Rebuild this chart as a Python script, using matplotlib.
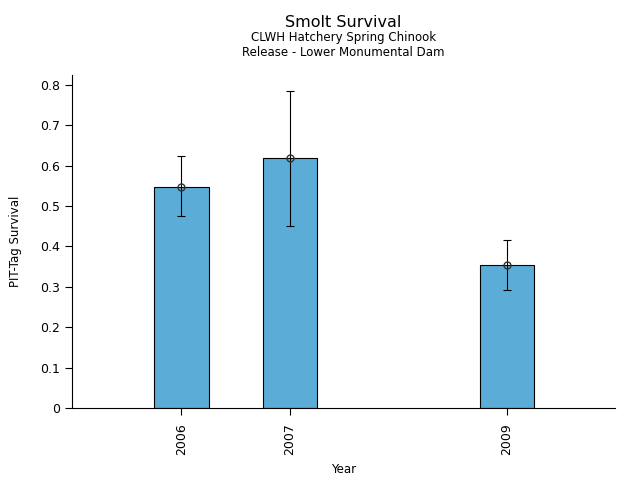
import matplotlib
matplotlib.use("Agg")
import matplotlib.pyplot as plt
from matplotlib.ticker import FuncFormatter
import numpy as np

years = [2006, 2007, 2009]
survival = [0.547, 0.619, 0.354]
upper = [0.624, 0.785, 0.416]
lower = [0.475, 0.450, 0.293]

err_low = np.array(survival) - np.array(lower)
err_high = np.array(upper) - np.array(survival)

fig = plt.figure(figsize=(6.4, 4.8), dpi=100)
ax = fig.add_axes([0.1125, 0.15, 0.8485, 0.694])

ax.bar(years, survival, width=0.5, color="#5bacd6", edgecolor="black", linewidth=0.8)
ax.errorbar(years, survival, yerr=[err_low, err_high], fmt="o", color="black",
            ecolor="black", elinewidth=0.8, capsize=3, capthick=0.8,
            markerfacecolor="none", markeredgecolor="#333333", markersize=5)

ax.set_xlim(2004.99, 2010)
ax.set_ylim(0, 0.825)
ax.set_xticks(years)
ax.set_xticklabels([str(y) for y in years], rotation=90)
ax.yaxis.set_major_formatter(FuncFormatter(lambda v, p: "0" if v == 0 else "%.1f" % v))
ax.tick_params(labelsize=9, length=5)
ax.tick_params(axis="x", pad=6)
ax.spines["top"].set_visible(False)
ax.spines["right"].set_visible(False)

ax.set_xlabel("Year", fontsize=8.5, labelpad=6)
ax.set_ylabel("PIT-Tag Survival", fontsize=8.5, labelpad=13)

fig.text(0.537, 0.953, "Smolt Survival", ha="center", va="center", fontsize=11.5)
fig.text(0.537, 0.921, "CLWH Hatchery Spring Chinook", ha="center", va="center", fontsize=8.5)
fig.text(0.537, 0.891, "Release - Lower Monumental Dam", ha="center", va="center", fontsize=8.5)

fig.savefig("out.png", dpi=100)
